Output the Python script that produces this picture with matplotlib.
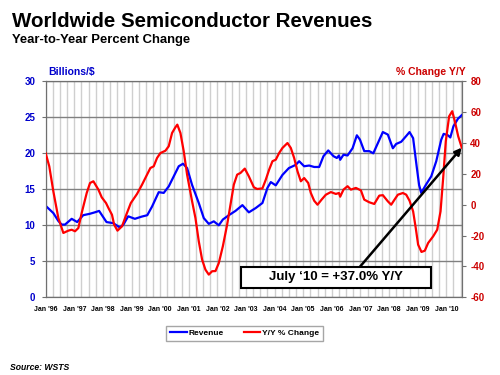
import matplotlib
matplotlib.use("Agg")
import matplotlib.pyplot as plt
from matplotlib.patches import Rectangle
from matplotlib.ticker import MultipleLocator, FixedLocator

plt.rcParams['font.family'] = ['Liberation Sans', 'DejaVu Sans']
plt.rcParams['axes.unicode_minus'] = False

# months since Jan 1996
rev_month = [0, 3.2, 5.3, 6.7, 8.1, 10.9, 13.2, 15.7, 18.5, 20.6, 22.4, 25.5, 28.3, 31.1, 32.5,
             34.6, 37.4, 40.2, 42.6, 44.6, 47.4, 49.5, 51.6, 53.7, 55.8, 57.6, 59.3, 61.4, 64.2,
             66.3, 68.4, 70.5, 72.6, 74.3, 76.8, 79.6, 82.5, 85.2, 88.1, 90.9, 93, 94.4, 96.5,
             99.3, 102, 104.9, 106.3, 108.4, 110.5, 112.6, 114.7, 116.5, 118.5, 120.7, 122.1,
             123, 123.5, 124.9, 126.6, 128.7, 130.5, 131.8, 133.6, 135.7, 137.4, 139.3, 141.4,
             143.5, 145.6, 147, 149.1, 151.2, 152.6, 154.1, 155.5, 156.6, 157.5, 159.6, 161.7,
             163.8, 165.9, 166.9, 168.7, 169.7, 171, 172.9, 174.5]
revenue = [12.7, 11.7, 10.6, 10.1, 10.1, 10.9, 10.45, 11.4, 11.6, 11.8, 12.0, 10.45, 10.3, 9.7, 10.05,
           11.25, 10.9, 11.2, 11.4, 12.6, 14.6, 14.5, 15.4, 16.8, 18.2, 18.55, 17.95, 15.6, 13.1,
           11.0, 10.2, 10.55, 10.0, 10.8, 11.4, 12.0, 12.8, 11.8, 12.4, 13.1, 15.2, 16.0, 15.55,
           17.0, 17.95, 18.4, 18.9, 18.2, 18.3, 18.1, 18.1, 19.6, 20.4, 19.6, 19.35,
           19.7, 19.1, 19.8, 19.7, 20.7, 22.5, 21.9, 20.3, 20.3, 20.0, 21.4, 22.95,
           22.6, 20.7, 21.3, 21.6, 22.4, 22.95, 22.1, 18.4, 15.6, 14.5, 15.7, 16.8,
           18.9, 21.9, 22.7, 22.5, 22.2, 23.75, 24.8, 25.3]

yoy_month = [0, 1.5, 3.2, 5.3, 7.4, 9.5, 10.9, 12.3, 13.7, 15.1, 17.2, 18.6, 20, 22.1, 23.5, 25.3,
             26.3, 27.8, 28.7, 30.1, 32, 33.8, 35.7, 38.3, 40.4, 42.5, 43.9, 45.3, 46.7, 48.1,
             50.2, 51.6, 53, 54.4, 55.2, 56.5, 57.9, 59.3, 61.4, 62.8, 64.2, 65.6, 67, 68.4,
             69.8, 71.2, 72.6, 74.3, 76.1, 77.5, 78.9, 80.3, 81.7, 83.5, 85.2, 87.3, 88.7,
             90.9, 92.3, 93.7, 95.1, 96.5, 97.9, 99.3, 101.4, 102.8, 104.2, 105.6, 107, 108.4,
             110.1, 111.2, 112.6, 114, 115.7, 117.5, 119.6, 121.7, 123, 123.5, 124.9, 126.6,
             128, 130.1, 132.2, 133.6, 135.7, 137.8, 139.9, 141.4, 143.5, 144.9, 146.3, 147.7,
             149.8, 151.2, 152.6, 154.1, 155.2, 156.2, 157.6, 159, 160.4, 162.5, 164.2, 165.6,
             166.7, 167.8, 169.2, 170.5, 171.6, 173, 174.5]
yoy_change = [33.3, 24.9, 8.7, -8.6, -18.3, -16.8, -16.2, -17.2, -15.1, -5.3, 7.6, 14.1, 15.2, 9.8, 4.8, 1.1,
              -2.1, -6.5, -12.9, -16.8, -14.0, -6.5, 1.1, 7.0, 13.0, 19.5, 23.8, 24.9, 30.3, 33.5,
              35.0, 37.9, 46.5, 50.2, 51.9, 46.5, 34.6, 19.5, 2.2, -8.6, -23.7, -35.6, -42.1, -45.3,
              -43.1, -43.0, -37.8, -26.9, -12.9, 0.0, 13.0, 19.5, 20.6, 23.4, 18.4, 11.3, 10.2,
              10.6, 16.2, 22.7, 28.2, 29.2, 33.5, 36.8, 40.0, 36.8, 30.3, 21.7, 15.2, 17.3,
              14.1, 7.6, 2.6, 0.0, 3.3, 6.5, 8.2, 7.0, 7.6, 5.2, 9.8, 12.0,
              9.8, 10.9, 9.3, 3.3, 1.6, 0.5, 5.9, 6.2, 2.2, 0.0, 3.3, 6.5,
              7.6, 6.5, 2.6, -4.3, -15.1, -25.9, -30.6, -29.8, -24.8, -20.5, -16.2, -4.3,
              17.3, 41.1, 57.3, 60.6, 54.1, 44.4, 37.0]

year_labels = ["Jan '96", "Jan '97", "Jan '98", "Jan '99", "Jan '00", "Jan '01", "Jan '02",
               "Jan '03", "Jan '04", "Jan '05", "Jan '06", "Jan '07", "Jan '08", "Jan '09",
               "Jan '10"]
left_ticks = [0, 5, 10, 15, 20, 25, 30]
right_ticks = [-60, -40, -20, 0, 20, 40, 60, 80]
annotation_text = "July \u201810 = +37.0% Y/Y"

BLUE = '#0000FF'
RED = '#FF0000'
BLUE_T = '#0000CC'
RED_T = '#CC0000'

fig = plt.figure(figsize=(5, 3.75), dpi=100)
ax = fig.add_axes([0.0914, 0.2072, 0.8326, 0.576])
ax2 = ax.twinx()

ax.set_xlim(0, 174.6)
ax.set_ylim(0, 30)
ax2.set_ylim(-60, 80)

# grid
ax.xaxis.set_major_locator(FixedLocator([12 * i for i in range(len(year_labels))]))
ax.xaxis.set_minor_locator(MultipleLocator(3))
ax.set_xticklabels(year_labels)
ax.grid(axis='x', which='both', color='#cfcfcf', lw=1.0, zorder=0)
ax.yaxis.set_major_locator(FixedLocator(left_ticks))
ax.grid(axis='y', which='major', color='#808080', lw=1.0, zorder=0)
ax.set_axisbelow(True)

ax.plot(rev_month, revenue, color=BLUE, lw=1.6, zorder=3, label='Revenue')
ax2.plot(yoy_month, yoy_change, color=RED, lw=1.6, zorder=3, label='Y/Y % Change')

ax2.yaxis.set_major_locator(FixedLocator(right_ticks))

for s in ['left', 'right', 'top', 'bottom']:
    ax.spines[s].set_color('#707070')
    ax2.spines[s].set_color('#707070')

ax.tick_params(axis='x', which='both', length=0, pad=6.5, labelsize=5)
for t in ax.get_xticklabels():
    t.set_fontweight('bold')
ax.tick_params(axis='y', length=3, color='#707070', pad=4.5, labelsize=7, labelcolor=BLUE_T)
for t in ax.get_yticklabels():
    t.set_fontweight('bold')
ax2.tick_params(axis='y', length=3, color='#707070', pad=3, labelsize=7, labelcolor=RED_T)
for t in ax2.get_yticklabels():
    t.set_fontweight('bold')

# annotation box
box = Rectangle((0.4684, 0.0417), 0.4564, 0.10, transform=ax2.transAxes,
                facecolor='white', edgecolor='black', lw=1.5, zorder=5)
ax2.add_patch(box)
ax2.text(0.4684 + 0.4564 / 2, 0.0417 + 0.05, annotation_text, transform=ax2.transAxes,
         ha='center', va='center', fontsize=9.5, fontweight='bold', zorder=6)
ax2.annotate('', xy=(yoy_month[-1], yoy_change[-1]), xycoords='data',
             xytext=(0.755, 0.1417), textcoords='axes fraction',
             arrowprops=dict(arrowstyle='-|>', color='black', lw=1.8, mutation_scale=10,
                             shrinkA=0, shrinkB=0), zorder=6)

# titles
fig.text(0.025, 0.9288, 'Worldwide Semiconductor Revenues', fontsize=14.8, fontweight='bold',
         ha='left', va='baseline')
fig.text(0.025, 0.886, 'Year-to-Year Percent Change', fontsize=9.4, fontweight='bold',
         ha='left', va='baseline')
fig.text(0.096, 0.808, 'Billions/$', fontsize=7.5, fontweight='bold', color=BLUE_T,
         ha='left', va='center')
fig.text(0.932, 0.808, '% Change Y/Y', fontsize=7.5, fontweight='bold', color=RED_T,
         ha='right', va='center')
fig.text(0.02, 0.0213, 'Source: WSTS', fontsize=6.2, fontweight='bold', style='italic',
         ha='left', va='center')

# legend
h1, l1 = ax.get_legend_handles_labels()
h2, l2 = ax2.get_legend_handles_labels()
leg = fig.legend(h1 + h2, l1 + l2, loc='center', bbox_to_anchor=(0.489, 0.111), ncol=2,
                 frameon=True, fancybox=False, edgecolor='#909090',
                 handlelength=2.0, handletextpad=0.2, columnspacing=2.4,
                 borderpad=0.45, borderaxespad=0, prop={'weight': 'bold', 'size': 6})
leg.get_frame().set_linewidth(1.0)

fig.savefig('out.png', dpi=100)
